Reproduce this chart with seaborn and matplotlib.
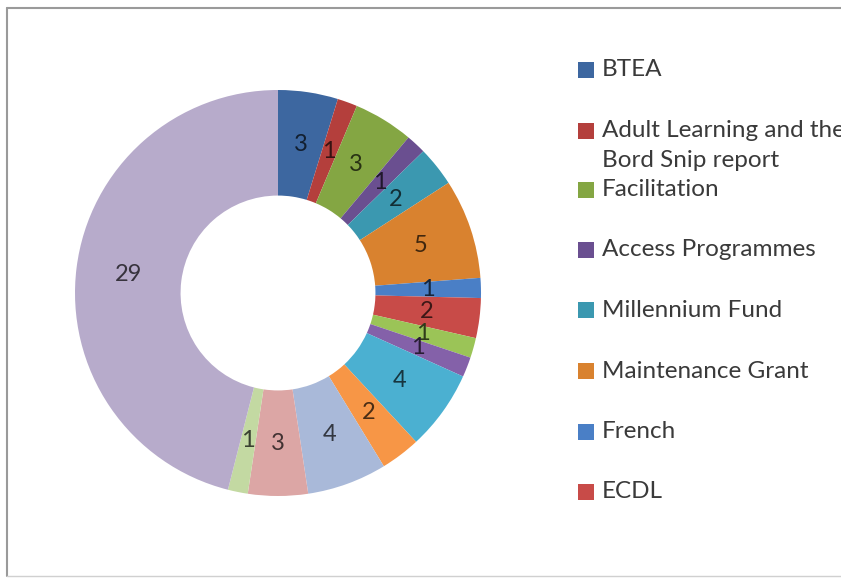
import matplotlib
matplotlib.use('Agg')
import matplotlib.pyplot as plt
import matplotlib.colors as mcolors
from matplotlib.patches import Rectangle
from matplotlib.lines import Line2D
import numpy as np
import seaborn as sns

# data (slices clockwise from 12 o'clock)
values = [3, 1, 3, 1, 2, 5, 1, 2, 1, 1, 4, 2, 4, 3, 1, 29]
legend_labels = ['BTEA', 'Adult Learning and the\nBord Snip report', 'Facilitation',
                 'Access Programmes', 'Millennium Fund', 'Maintenance Grant',
                 'French', 'ECDL']
slice_colors = ['#3D67A0', '#B43F3C', '#84A643', '#6A4F90', '#3B98B0', '#D9822F',
                '#4A7FC6', '#C84B48', '#9BC457', '#8461A9', '#4BB0D1', '#F79646',
                '#A9B9D9', '#DCA6A5', '#C3D9A2', '#B7ABCB']

sns.set_theme(style='white')
plt.rcParams['font.family'] = ['Lato', 'DejaVu Sans']

fig = plt.figure(figsize=(8.41, 5.78), dpi=100)
fig.patch.set_facecolor('white')

# chart border (right side cut off in the original)
fig.add_artist(Line2D([7 / 841, 7 / 841], [1 - 8 / 578, 1 - 576 / 578],
                      transform=fig.transFigure, color='#9A9A9A', lw=1.5))
fig.add_artist(Line2D([7 / 841, 1], [1 - 8 / 578, 1 - 8 / 578],
                      transform=fig.transFigure, color='#9A9A9A', lw=1.5))
fig.add_artist(Line2D([7 / 841, 1], [1 - 576 / 578, 1 - 576 / 578],
                      transform=fig.transFigure, color='#D0D0D0', lw=1))

# donut axes: centre (278, 293) px, outer radius 203 px
cx, cy, R = 278, 293, 203
ax = fig.add_axes([(cx - R) / 841, (578 - cy - R) / 578, 2 * R / 841, 2 * R / 578])
hole = 0.48
wedges, texts = ax.pie(values, colors=slice_colors, startangle=90, counterclock=False,
                       radius=1, labels=[str(v) for v in values],
                       labeldistance=(1 + hole) / 2,
                       wedgeprops=dict(width=1 - hole, linewidth=0),
                       textprops=dict(fontsize=17, ha='center', va='center'))
for t, c in zip(texts, slice_colors):
    rgb = np.array(mcolors.to_rgb(c)) * 0.3
    t.set_color(rgb)
ax.set_xlim(-1, 1)
ax.set_ylim(-1, 1)
ax.set_aspect('equal')
ax.axis('off')

# legend (only first entries visible in the original)
y = 70
for lab, c in zip(legend_labels, slice_colors):
    fig.add_artist(Rectangle((578 / 841, 1 - (y + 8) / 578), 16 / 841, 16 / 578,
                             transform=fig.transFigure, facecolor=c, edgecolor='none'))
    lines = lab.split('\n')
    for k, line in enumerate(lines):
        fig.text(602 / 841, 1 - (y + 30 * k) / 578, line, fontsize=17.5,
                 color='#3A3A3A', ha='left', va='center')
    y += 59 if len(lines) > 1 else 60.5

fig.savefig('out.png', dpi=100)
